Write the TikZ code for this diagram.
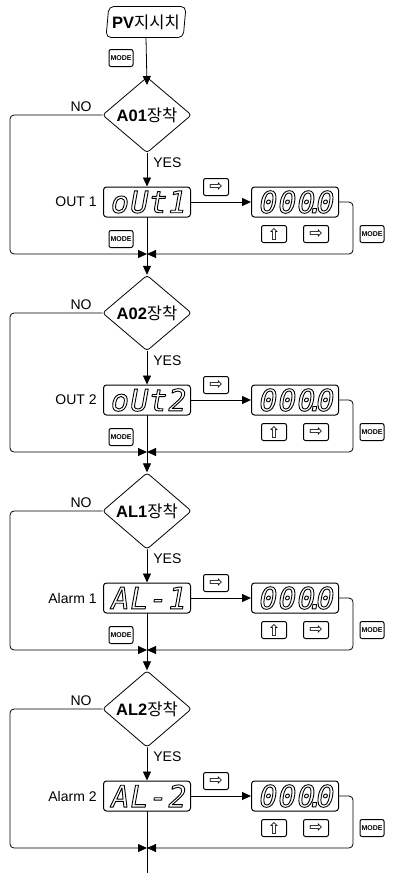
\documentclass[tikz,border=0pt]{standalone}
\usepackage{fontspec}
\setmainfont{Liberation Sans}
\newfontfamily\kr{Noto Sans CJK KR}
\newfontfamily\sym{DejaVu Sans}
\newfontfamily\segfont{DejaVu Sans Mono}[FakeSlant=0.18]
\usetikzlibrary{arrows.meta,shapes.geometric,positioning}
% one cell of the 7-segment display
\newcommand\dg[1]{\makebox[19pt]{#1}}
\newcommand\hollow[1]{\special{pdf:literal direct 1 Tr 0.9 w}#1\special{pdf:literal direct 0 Tr}}
\begin{document}
\begin{tikzpicture}[x=1pt,y=-1pt,line join=round,line cap=round,line width=.8pt,
  >={Triangle[length=9pt,width=8pt]}]
\tikzset{lbl/.style={font=\fontsize{14}{16}\selectfont,inner sep=1pt},
  dec/.style={diamond,draw,rounded corners=3pt,minimum width=89,minimum height=60,inner sep=0pt,
    font=\fontsize{16.5}{19}\selectfont},
  disp/.style={draw,rounded corners=3pt,line width=1pt,minimum width=87,minimum height=30,inner sep=0pt,
    font=\segfont\fontsize{30}{30}\selectfont},
  key/.style={draw,rounded corners=2pt,line width=1pt,minimum width=25,minimum height=17,inner sep=0pt,
    font=\sym\fontsize{16}{16}\selectfont},
  modekey/.style={key,minimum width=24,font=\fontsize{7}{7}\selectfont\bfseries},
  loop/.style={rounded corners=4pt,->}}
\useasboundingbox (0,0) rectangle (410,873);
\node[trapezium,trapezium left angle=82,trapezium right angle=98,trapezium stretches=true,
  draw,rounded corners=5pt,minimum width=80,minimum height=31,inner sep=2pt,
  font=\fontsize{16.5}{19}\selectfont] (pv) at (146,22) {\textbf{PV}{\kr 지시치}};
\node[modekey] (mode0) at (121,58) {MODE};
\draw[->] (pv.south) -- (147,85);
\foreach \i/\dy/\nm/\tag/\seg in {1/0/A01/OUT 1/{\dg{o}\dg{U}\dg{t}\dg{1}},
  2/198/A02/OUT 2/{\dg{o}\dg{U}\dg{t}\dg{2}},
  3/396/AL1/Alarm 1/{\dg{A}\dg{L}\dg{-}\dg{1}},
  4/594/AL2/Alarm 2/{\dg{A}\dg{L}\dg{-}\dg{2}}}{
  \node[dec] (d\i) at (147,115+\dy) {\textbf{\nm}{\kr 장착}};
  \node[lbl] (no\i) at (81,107+\dy) {NO};
  \node[lbl,anchor=west] (yes\i) at (152,163+\dy) {YES};
  \node[disp] (b\i) at (147,202+\dy) {\hollow{\seg}};
  \node[lbl,left=5pt of b\i] (t\i) {\tag};
  \node[key] (nx\i) at (216,187+\dy) {⇨};
  \node[disp] (v\i) at (295,202+\dy) {\hollow{\dg{0}\dg{0}\dg{0}\makebox[0pt]{.}\dg{0}}};
  \node[key] (up\i) at (274,234+\dy) {⇧};
  \node[key] (rt\i) at (316,234+\dy) {⇨};
  \node[modekey] (mr\i) at (372,234+\dy) {MODE};
  \coordinate (m\i) at (147,254+\dy);
  \coordinate (sw\i) at (10,254+\dy);
  \coordinate (se\i) at (353,254+\dy);
  \draw[->] (d\i.south) -- (b\i.north);
  \draw[->] (b\i.east) -- (v\i.west);
  \draw (b\i.south) -- (m\i);
  \draw[loop] (d\i.west) -| (sw\i) -- (m\i);
  \draw[loop] (v\i.east) -| (se\i) -- (m\i);
}
% MODE keys under the first three displays
\foreach \i/\dy in {1/0,2/198,3/396}
  \node[modekey] (ml\i) at (121,239+\dy) {MODE};
\draw[->] (m1) -- (d2.north);
\draw[->] (m2) -- (d3.north);
\draw[->] (m3) -- (d4.north);
\coordinate (end) at (147,873);
\draw (m4) -- (end);
\end{tikzpicture}
\end{document}
